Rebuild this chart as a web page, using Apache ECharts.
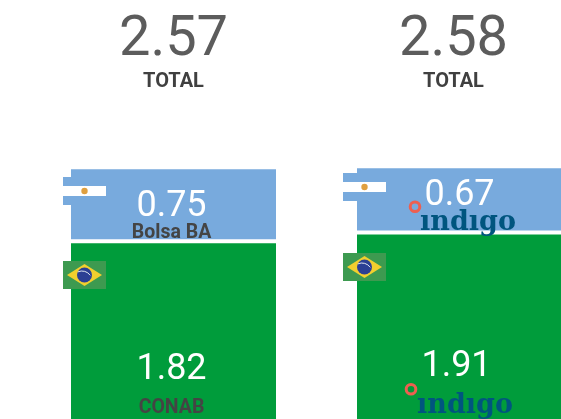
<!DOCTYPE html>
<html>
<head>
<meta charset="utf-8">
<style>
html, body { margin: 0; padding: 0; background: #fff; }
#main { width: 561px; height: 419px; overflow: hidden; }
</style>
</head>
<body>
<div id="main"></div>
<script src="https://cdn.jsdelivr.net/npm/echarts@6/dist/echarts.min.js"></script>
<script>
let categories = ['col1', 'col2'];
let totals = ['2.57', '2.58'];
let brazil = [1.82, 1.91];
let argentina = [0.75, 0.67];
let brazilSource = ['CONAB', 'ındıgo'];
let argentinaSource = ['Bolsa BA', 'ındıgo'];

let barBlue = '#78aadd';
let barGreen = '#009c3b';

function barLabel(values, sources, i, offset, gap) {
    let isLogo = sources[i] === 'ındıgo';
    return {
        value: values[i],
        label: {
            show: true,
            position: 'inside',
            offset: offset,
            formatter: '{v|' + values[i].toFixed(2) + '}\n{s|' + sources[i] + '}',
            rich: {
                v: { fontFamily: 'Roboto', fontWeight: 400, fontSize: 36, color: '#fff', lineHeight: 35, align: 'center' },
                s: isLogo
                    ? { fontFamily: 'DejaVu Serif', fontWeight: 'bold', fontSize: 27, color: '#00557f', lineHeight: 16, align: 'center', padding: [gap, 0, 0, 17] }
                    : { fontFamily: 'Roboto', fontWeight: 'bold', fontSize: 19.5, color: '#444', lineHeight: 16, align: 'center', padding: [gap, 0, 0, 0] }
            }
        }
    };
}

// flags and logo rings are drawn on top of the bars
function argentinaFlag(x, y) {
    return [
        { type: 'rect', z: 10, shape: { x: x, y: y, width: 43, height: 28 }, style: { fill: '#78aadd' } },
        { type: 'rect', z: 10, shape: { x: x, y: y + 9, width: 43, height: 10 }, style: { fill: '#fff' } },
        { type: 'circle', z: 11, shape: { cx: x + 21.5, cy: y + 14, r: 3.2 }, style: { fill: '#e0a040' } }
    ];
}

function brazilFlag(x, y) {
    return [
        { type: 'rect', z: 10, shape: { x: x, y: y, width: 43, height: 28 }, style: { fill: '#3d9a50' } },
        { type: 'polygon', z: 11, shape: { points: [[x + 4, y + 14], [x + 21.5, y + 3], [x + 39, y + 14], [x + 21.5, y + 25]] }, style: { fill: '#f2cf2e' } },
        { type: 'circle', z: 12, shape: { cx: x + 21.5, cy: y + 14, r: 7.5 }, style: { fill: '#2b3f94' } },
        { type: 'arc', z: 13, shape: { cx: x + 19, cy: y + 20, r: 10, startAngle: -2, endAngle: -0.6 }, style: { stroke: '#dfe6f0', lineWidth: 1, fill: null } }
    ];
}

function ring(cx, cy) {
    return { type: 'circle', z: 12, shape: { cx: cx, cy: cy, r: 4.8 }, style: { fill: 'none', stroke: '#ee5f50', lineWidth: 3 } };
}

let graphics = [].concat(
    argentinaFlag(63, 177), brazilFlag(63, 261),
    argentinaFlag(343, 173), brazilFlag(343, 253),
    [ring(415, 206.7), ring(411, 389.3)]
);

let option = {
    animation: false,
    grid: { left: 30.5, top: 0, width: 572, height: 421, outerBoundsMode: 'none' },
    xAxis: {
        type: 'category',
        position: 'top',
        data: categories,
        axisLine: { show: false },
        axisTick: { show: false },
        axisLabel: {
            inside: true,
            margin: 11,
            interval: 0,
            formatter: (name, i) => '{n' + i + '|' + totals[i] + '}\n{t' + i + '|TOTAL}',
            rich: {
                n0: { fontFamily: 'Roboto', fontWeight: 400, fontSize: 56, color: '#5c5c5c', lineHeight: 60, align: 'center' },
                t0: { fontFamily: 'Roboto', fontWeight: 'bold', fontSize: 20, color: '#404040', lineHeight: 22, align: 'center' },
                // the second total sits a little left of its bar
                n1: { fontFamily: 'Roboto', fontWeight: 400, fontSize: 56, color: '#5c5c5c', lineHeight: 60, align: 'center', padding: [0, 12, 0, 0] },
                t1: { fontFamily: 'Roboto', fontWeight: 'bold', fontSize: 20, color: '#404040', lineHeight: 22, align: 'center', padding: [0, 12, 0, 0] }
            }
        }
    },
    yAxis: { type: 'value', min: 0, max: 4.265, show: false },
    graphic: graphics,
    series: [{
        type: 'bar',
        stack: 'total',
        barWidth: 209,
        itemStyle: { color: barGreen, borderColor: '#fff', borderWidth: 2 },
        data: [
            barLabel(brazil, brazilSource, 0, [-2, 47], 25),
            barLabel(brazil, brazilSource, 1, [-3, 48.5], 27)
        ]
    }, {
        type: 'bar',
        stack: 'total',
        barWidth: 209,
        itemStyle: { color: barBlue, borderColor: '#fff', borderWidth: 2 },
        data: [
            barLabel(argentina, argentinaSource, 0, [-2, 11], 0),
            barLabel(argentina, argentinaSource, 1, [0, 4.5], 4)
        ]
    }]
};

echarts.init(document.getElementById('main')).setOption(option);
</script>
</body>
</html>
